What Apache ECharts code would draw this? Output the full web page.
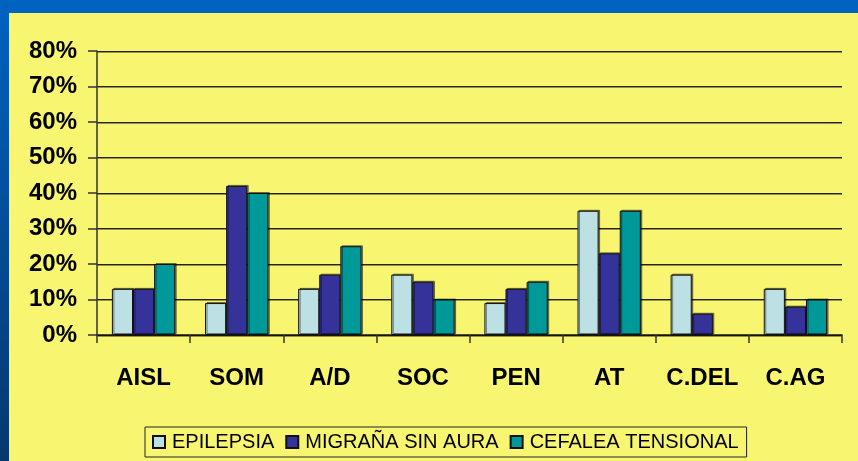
<!DOCTYPE html>
<html>
<head>
<meta charset="utf-8">
<script src="https://cdn.jsdelivr.net/npm/echarts@6/dist/echarts.min.js"></script>
<style>
html,body{margin:0;padding:0;background:#F8F570;}
#c{width:858px;height:461px;}
</style>
</head>
<body>
<div id="c"></div>
<script>
const categories = ['AISL', 'SOM', 'A/D', 'SOC', 'PEN', 'AT', 'C.DEL', 'C.AG'];
const seriesNames = ['EPILEPSIA', 'MIGRAÑA SIN AURA', 'CEFALEA TENSIONAL'];
const epilepsia = [13, 9, 13, 17, 9, 35, 17, 13];
const migrana = [13, 42, 17, 15, 13, 23, 6, 8];
const cefalea = [20, 40, 25, 10, 15, 35, 0, 10];
const yTicks = [0, 10, 20, 30, 40, 50, 60, 70, 80];
const colors = ['#BDE0E4', '#35339A', '#009999'];

const chart = echarts.init(document.getElementById('c'), null, {renderer: 'canvas'});
const font = '"Liberation Sans", Arial, sans-serif';
function bar(name, data, color) {
  return {
    name: name, type: 'bar',
    data: data.map(function (v) {
      return v === 0 ? {value: 0, itemStyle: {borderWidth: 0, shadowColor: 'transparent'}} : v;
    }),
    barGap: '0%', barCategoryGap: '32%',
    itemStyle: {color: color, borderColor: '#111', borderWidth: 1,
      shadowColor: 'rgba(0,0,0,0.45)', shadowOffsetX: 1.5, shadowOffsetY: -1, shadowBlur: 0},
    emphasis: {disabled: true}
  };
}
chart.setOption({
  animation: false,
  backgroundColor: '#F8F570',
  graphic: [
    {type: 'rect', left: 0, top: 0, shape: {width: 858, height: 13}, style: {fill: '#0062C1'}, z: 100},
    {type: 'rect', left: 0, top: 0, shape: {width: 9, height: 461},
      style: {fill: new echarts.graphic.LinearGradient(0, 0, 0, 1, [{offset: 0, color: '#0062C1'}, {offset: 1, color: '#06386E'}])}, z: 100}
  ],
  grid: {left: 97, right: 16, top: 51, bottom: 126, containLabel: false},
  legend: {
    data: seriesNames, left: 145, top: 427, orient: 'horizontal',
    padding: [5, 8, 5, 7], itemGap: 11, itemWidth: 12, itemHeight: 12,
    borderColor: '#222', borderWidth: 1,
    textStyle: {fontFamily: font, fontSize: 20, color: '#000', padding: [0, 0, 0, 2]},
    icon: 'rect'
  },
  xAxis: {
    type: 'category', data: categories,
    axisLine: {lineStyle: {color: '#111', width: 1.5}},
    axisTick: {show: true, length: 8, lineStyle: {color: '#333', width: 1.5}},
    axisLabel: {fontFamily: font, fontSize: 24, fontWeight: 'bold', color: '#000', margin: 31, interval: 0}
  },
  yAxis: {
    type: 'value', min: 0, max: 80, interval: 10,
    axisLine: {show: true, lineStyle: {color: '#333', width: 1.5}},
    axisTick: {show: true, length: 9, lineStyle: {color: '#333', width: 1.5}},
    axisLabel: {fontFamily: font, fontSize: 24, fontWeight: 'bold', color: '#000', margin: 20,
      formatter: function (v) { return yTicks.indexOf(v) >= 0 ? v + '%' : ''; }},
    splitLine: {lineStyle: {color: '#222', width: 1.2, shadowColor: 'rgba(0,0,0,0.4)', shadowOffsetY: 1}}
  },
  series: [
    bar(seriesNames[0], epilepsia, colors[0]),
    bar(seriesNames[1], migrana, colors[1]),
    bar(seriesNames[2], cefalea, colors[2])
  ]
});
</script>
</body>
</html>
